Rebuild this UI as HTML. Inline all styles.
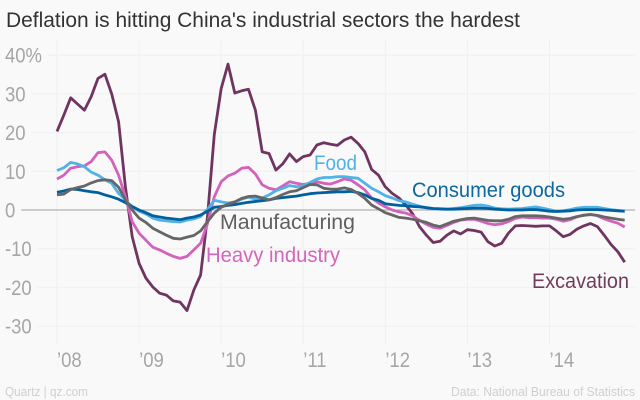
<!DOCTYPE html>
<html>
<head>
<meta charset="utf-8">
<title>Deflation is hitting China's industrial sectors the hardest</title>
<style>
html,body{margin:0;padding:0;background:#f9f9f9;}
svg{display:block;font-family:"Liberation Sans",sans-serif;}
</style>
</head>
<body>
<svg id="chart" width="640" height="400" viewBox="0 0 640 400" xmlns="http://www.w3.org/2000/svg">
  <rect x="0" y="0" width="640" height="400" fill="#f9f9f9"/>
  <text x="6" y="27" font-size="21.5" fill="#333" textLength="514" lengthAdjust="spacingAndGlyphs">Deflation is hitting China's industrial sectors the hardest</text>
  <g id="grid"></g>
  <g id="yaxis"></g>
  <g id="xaxis"></g>
  <g id="series"></g>
  <text x="314" y="170" font-size="21" fill="#51b2e5" textLength="43" lengthAdjust="spacingAndGlyphs">Food</text>
  <text x="412" y="197" font-size="21" fill="#0e689f" textLength="153" lengthAdjust="spacingAndGlyphs">Consumer goods</text>
  <text x="220" y="229" font-size="21" fill="#5f5f5f" textLength="135" lengthAdjust="spacingAndGlyphs">Manufacturing</text>
  <text x="206" y="262" font-size="21" fill="#d565bc" textLength="134" lengthAdjust="spacingAndGlyphs">Heavy industry</text>
  <text x="532" y="288" font-size="21" fill="#703c5c" textLength="97" lengthAdjust="spacingAndGlyphs">Excavation</text>
  <text x="5" y="396" font-size="13" fill="#cfcfcf" textLength="83" lengthAdjust="spacingAndGlyphs">Quartz | qz.com</text>
  <text x="451" y="396" font-size="13" fill="#cfcfcf" textLength="184" lengthAdjust="spacingAndGlyphs">Data: National Bureau of Statistics</text>
</svg>
<script>
const yearLabels = ["’08","’09","’10","’11","’12","’13","’14"];
const yTickValues = [40,30,20,10,0,-10,-20,-30];
const yTickLabels = ["40%","30","20","10","0","-10","-20","-30"];

const excavation = [20.3,24.5,29,27.4,25.8,29.3,34,35.1,30,22.8,6,-6.9,-13.8,-17.6,-19.9,-21.5,-22,-23.5,-23.8,-26,-20.7,-16.8,-1.7,19.5,31.4,37.7,30.2,30.8,31.2,25.8,15,14.6,10.3,11.9,14.5,12.5,13.8,14.2,16.8,17.4,17,16.7,18.1,18.8,17.2,15,10.5,9,6,4.3,3.1,1.3,-1,-4.3,-6.5,-8.4,-8.1,-6.5,-5.4,-6.2,-5.1,-5.3,-5.7,-8.2,-9.3,-8.6,-6,-4.1,-4,-4.1,-4.2,-4.1,-4.1,-5.4,-6.9,-6.3,-5,-4.1,-3.5,-4.3,-6.5,-8.9,-10.8,-13.5];
const heavyIndustry = [8,9,10.8,11.2,11.4,12.5,14.8,15,12.9,9,3.4,-3,-6,-7.8,-9.6,-10.3,-11.2,-12,-12.5,-12,-10.3,-8.6,-3.5,3.4,7.3,8.8,9.5,10.8,11,9.3,6.5,5.6,5.2,6.2,7.3,6.9,6.6,6.9,7.3,6.9,6.7,7.3,8,7.7,6.5,5.2,3.1,1.8,0.8,0,-0.5,-0.8,-1.5,-2.7,-3.7,-4.5,-4.7,-4,-3.2,-2.6,-2.4,-2.4,-2.9,-3.5,-3.8,-3.6,-3,-2.2,-1.8,-2,-2,-2.1,-2.1,-2.4,-2.9,-2.5,-1.8,-1.3,-1.1,-1.5,-2.3,-2.9,-3.4,-4.4];
const food = [10.2,10.9,12.3,11.9,11.2,9.8,9,7.8,6.9,4.3,2.6,0.8,-0.3,-1,-2.1,-2.6,-2.8,-3,-3.1,-2.6,-2.3,-1.7,0.2,2.5,2.1,1.8,2.1,2.8,3.3,2.8,3.1,3.9,5,5.6,6.3,6,6.3,7.1,8,8.4,8.4,8.6,8.6,8.4,8.2,6.9,5.6,4.7,3.7,3.1,2.4,2.1,1.5,1,0.6,0.3,0.2,0.2,0.4,0.6,0.9,1.2,1.3,1,0.5,0.3,0.2,0.3,0.4,0.6,0.8,0.5,0.1,-0.3,-0.2,0.1,0.5,0.7,0.7,0.7,0.4,0.1,-0.1,-0.3];
const consumerGoods = [4.6,4.9,5.4,5.3,5,4.7,4.5,3.9,3.4,2.8,1.9,0.9,0,-0.7,-1.5,-1.8,-2.1,-2.3,-2.5,-2.1,-1.8,-1.3,-0.3,0.7,0.9,1.2,1.4,1.7,2,2.2,2.4,2.6,3,3.2,3.4,3.6,3.9,4.2,4.4,4.5,4.6,4.7,4.7,4.8,4.5,3.9,3,2.5,1.6,1.4,1.2,1.1,0.9,0.8,0.6,0.4,0.3,0.2,0.2,0.3,0.4,0.5,0.5,0.4,0.2,0.1,0,0,0,0.1,0.1,-0.1,-0.3,-0.4,-0.3,-0.2,0,0.1,0.1,0.1,0,-0.1,-0.2,-0.3];
const manufacturing = [3.9,4.1,5.3,5.8,6.2,7,7.6,7.8,7.6,5.9,2.6,0,-2.1,-3.2,-4.7,-5.6,-6.5,-7.3,-7.5,-7,-6.6,-5.4,-3,-0.8,0.7,1.5,2.1,3,3.5,3.6,3.1,2.6,3.2,4,4.7,5,5.8,6.6,6.5,5.6,5.4,5.4,5.7,5.3,4.3,3,1.3,0.3,-0.7,-1.3,-1.9,-2.1,-2.4,-2.8,-3.2,-3.9,-4.3,-3.6,-2.9,-2.5,-2.2,-2.1,-2.4,-2.7,-2.8,-2.8,-2.4,-1.7,-1.5,-1.5,-1.5,-1.6,-1.8,-2.1,-2.4,-2.2,-1.7,-1.4,-1.2,-1.4,-1.8,-2.1,-2.4,-2.6];

const SVGNS = "http://www.w3.org/2000/svg";
const monthsPerYear = 12;
const tickCondense = 0.88;
function xScale(monthIndex){ return 57 + monthIndex * 6.84; }
function yScale(value){ return 210 - value * 3.87; }

const grid = document.getElementById('grid');
const yaxis = document.getElementById('yaxis');
const xaxis = document.getElementById('xaxis');
const seriesGroup = document.getElementById('series');

function condense(t){
  const w = t.getComputedTextLength() * tickCondense;
  t.setAttribute('textLength', w.toFixed(1));
  t.setAttribute('lengthAdjust', 'spacingAndGlyphs');
  return w;
}

yearLabels.forEach(function(label, k){
  const px = xScale(k * monthsPerYear);
  const line = document.createElementNS(SVGNS, 'line');
  
  
  line.setAttribute('x1', px); line.setAttribute('x2', px);
  line.setAttribute('y1', 40); line.setAttribute('y2', 345);
  line.setAttribute('stroke', '#f0f0f0');
  line.setAttribute('stroke-width', 1);
  grid.appendChild(line);
  const t = document.createElementNS(SVGNS, 'text');
  
  
  t.setAttribute('x', px);
  t.setAttribute('y', 367);
  t.setAttribute('font-size', 21);
  t.setAttribute('fill', '#a6a6a6');
  t.textContent = label;
  xaxis.appendChild(t);
  condense(t);
});

yTickValues.forEach(function(v, k){
  const py = yScale(v);
  const t = document.createElementNS(SVGNS, 'text');
  
  
  t.setAttribute('x', 5);
  t.setAttribute('y', py + 7.5);
  t.setAttribute('font-size', 21);
  t.setAttribute('fill', '#a6a6a6');
  t.textContent = yTickLabels[k];
  yaxis.appendChild(t);
  const start = 5 + condense(t) + 6;
  const line = document.createElementNS(SVGNS, 'line');
  
  
  line.setAttribute('x1', start); line.setAttribute('x2', 635);
  line.setAttribute('y1', py); line.setAttribute('y2', py);
  line.setAttribute('stroke', v === 0 ? '#a0a0a0' : '#f0f0f0');
  line.setAttribute('stroke-width', 1);
  grid.appendChild(line);
});

function drawSeries(values, color){
  const d = values.map(function(v, i){ return xScale(i).toFixed(1) + ',' + yScale(v).toFixed(1); }).join(' ');
  const path = document.createElementNS(SVGNS, 'polyline');
  path.setAttribute('points', d);
  path.setAttribute('fill', 'none');
  path.setAttribute('stroke', color);
  path.setAttribute('stroke-width', 2.8);
  path.setAttribute('stroke-linejoin', 'round');
  seriesGroup.appendChild(path);
  return path;
}

const lineExcavation = drawSeries(excavation, '#6f3560');


const lineHeavy = drawSeries(heavyIndustry, '#d262bb');


const lineFood = drawSeries(food, '#51b2e5');


const lineConsumer = drawSeries(consumerGoods, '#00609f');


const lineManufacturing = drawSeries(manufacturing, '#666666');


</script>
</body>
</html>
